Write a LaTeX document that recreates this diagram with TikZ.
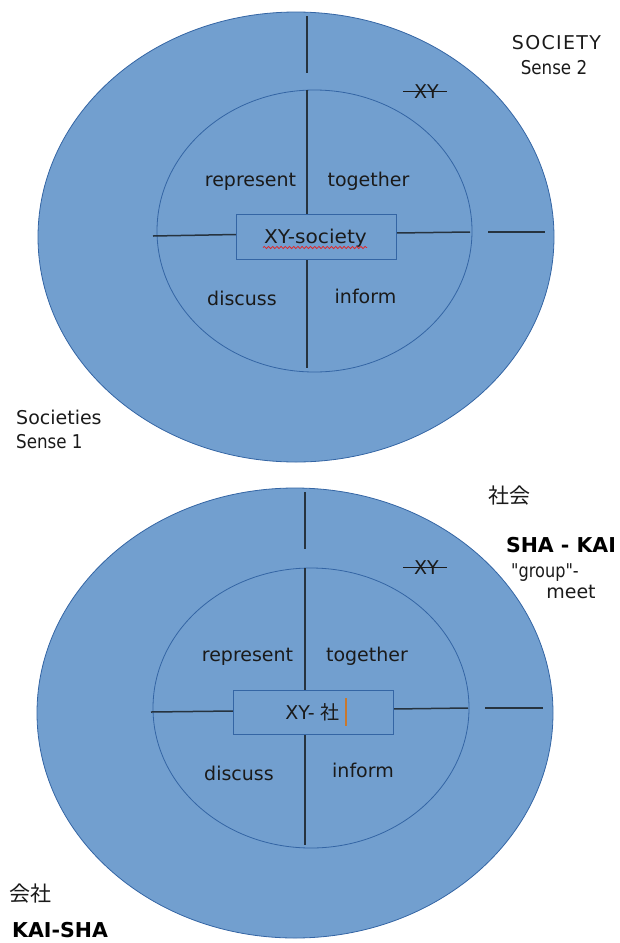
\documentclass[tikz,border=0pt]{standalone}
\usepackage{fontspec}
\usepackage{graphicx}
\setmainfont{DejaVu Sans}
\newfontfamily\cjk{Noto Sans CJK JP}
\usetikzlibrary{shapes.geometric,decorations.pathmorphing}
\definecolor{fillblue}{HTML}{729FCF}
\definecolor{edgeblue}{HTML}{3465A4}
\definecolor{linedark}{HTML}{26333F}
\definecolor{txt}{HTML}{1A1A1A}
\definecolor{cursorc}{HTML}{C8782E}
\definecolor{wavyred}{HTML}{E0282A}
\begin{document}
\begin{tikzpicture}[x=1pt,y=-1pt,
  ring/.style={ellipse,draw=edgeblue,fill=fillblue,line width=0.8pt,inner sep=0pt},
  centerbox/.style={rectangle,draw=edgeblue,fill=fillblue,line width=1pt,inner sep=0pt,minimum width=160pt,minimum height=45pt},
  divider/.style={draw=linedark,line width=1.5pt},
  lbl/.style={font=\fontsize{19}{22}\selectfont,text=txt,inner sep=0pt,anchor=base},
  boldlbl/.style={font=\fontsize{20.5}{24}\selectfont\bfseries,text=black,inner sep=0pt,anchor=base},
  cjklbl/.style={font=\fontsize{21}{24}\selectfont\cjk,text=txt,inner sep=0pt,anchor=base},
  strike/.style={draw=txt,line width=1pt},
  wavy/.style={draw=wavyred,line width=0.8pt,decorate,decoration={snake,amplitude=1.1pt,segment length=4.2pt}},
  cursorbar/.style={draw=cursorc,line width=2pt}
]
\useasboundingbox (0,0) rectangle (619,943);

% ================= TOP DIAGRAM =================
\node[ring,minimum width=516pt,minimum height=450pt] (outA) at (296,237) {};
\node[ring,minimum width=315pt,minimum height=282pt] (inA) at (314.5,231) {};

\coordinate (vA1) at (307,16);  \coordinate (vA2) at (307,73);
\coordinate (vA3) at (307,90);  \coordinate (vA4) at (307,214);
\coordinate (vA5) at (307,259); \coordinate (vA6) at (307,368);
\coordinate (hA1) at (153,236); \coordinate (hA2) at (236,234.5);
\coordinate (hA3) at (396,233); \coordinate (hA4) at (470,232);
\coordinate (hA5) at (488,232); \coordinate (hA6) at (545,232);
\draw[divider] (vA1) -- (vA2);
\draw[divider] (vA3) -- (vA4);
\draw[divider] (vA5) -- (vA6);
\draw[divider] (hA1) -- (hA2);
\draw[divider] (hA3) -- (hA4);
\draw[divider] (hA5) -- (hA6);

\node[centerbox] (boxA) at (316,236.5) {};
\node[lbl] (xysoc) at (315.5,243) {\scalebox{1.06}[1]{XY-society}};
\coordinate (wA1) at (263,247.5); \coordinate (wA2) at (367,247.5);
\draw[wavy] (wA1) -- (wA2);

\node[lbl] (repA) at (250.5,186) {represent};
\node[lbl] (togA) at (368.5,186) {together};
\node[lbl] (disA) at (242,305) {discuss};
\node[lbl] (infA) at (365.5,303) {inform};

\node[lbl] (xyA) at (426.5,98) {XY};
\coordinate (sA1) at (403,91); \coordinate (sA2) at (447,91);
\draw[strike] (sA1) -- (sA2);

\node[lbl] (socA) at (556.5,49) {\addfontfeature{LetterSpace=7}SOCIETY};
\node[lbl] (sen2) at (554,74) {\scalebox{0.88}[1]{Sense 2}};
\node[lbl,anchor=base west] (socs) at (16,424) {Societies};
\node[lbl,anchor=base west] (sen1) at (16,448) {\scalebox{0.88}[1]{Sense 1}};

% ================= BOTTOM DIAGRAM =================
\node[ring,minimum width=516pt,minimum height=450pt] (outB) at (295,713) {};
\node[ring,minimum width=316pt,minimum height=280pt] (inB) at (311,708) {};

\coordinate (vB1) at (305,492); \coordinate (vB2) at (305,549);
\coordinate (vB3) at (305,568); \coordinate (vB4) at (305,690);
\coordinate (vB5) at (305,734); \coordinate (vB6) at (305,845);
\coordinate (hB1) at (151,712); \coordinate (hB2) at (233,711);
\coordinate (hB3) at (393,709); \coordinate (hB4) at (468,708);
\coordinate (hB5) at (485,708); \coordinate (hB6) at (543,708);
\draw[divider] (vB1) -- (vB2);
\draw[divider] (vB3) -- (vB4);
\draw[divider] (vB5) -- (vB6);
\draw[divider] (hB1) -- (hB2);
\draw[divider] (hB3) -- (hB4);
\draw[divider] (hB5) -- (hB6);

\node[centerbox,minimum height=44pt] (boxB) at (313,712) {};
\node[lbl] (xysha) at (312.5,719) {XY- {\cjk 社}};
\coordinate (cB1) at (345.5,698); \coordinate (cB2) at (345.5,726);
\draw[cursorbar] (cB1) -- (cB2);

\node[lbl] (repB) at (247.5,661) {represent};
\node[lbl] (togB) at (367,661) {together};
\node[lbl] (disB) at (239,780) {discuss};
\node[lbl] (infB) at (363,777) {inform};

\node[lbl] (xyB) at (426.5,574) {XY};
\coordinate (sB1) at (403,567); \coordinate (sB2) at (447,567);
\draw[strike] (sB1) -- (sB2);

\node[cjklbl] (shakai) at (509,503) {社会};
\node[boldlbl] (shakaiR) at (561,552) {SHA - KAI};
\node[lbl] (group) at (545,577) {\scalebox{0.85}[1]{\addfontfeature{Ligatures=TeXOff}"group"-}};
\node[lbl] (meet) at (571,598) {meet};
\node[cjklbl,anchor=base west] (kaisha) at (9,901) {会社};
\node[boldlbl,anchor=base west] (kaishaR) at (12,937) {KAI-SHA};
\end{tikzpicture}
\end{document}
